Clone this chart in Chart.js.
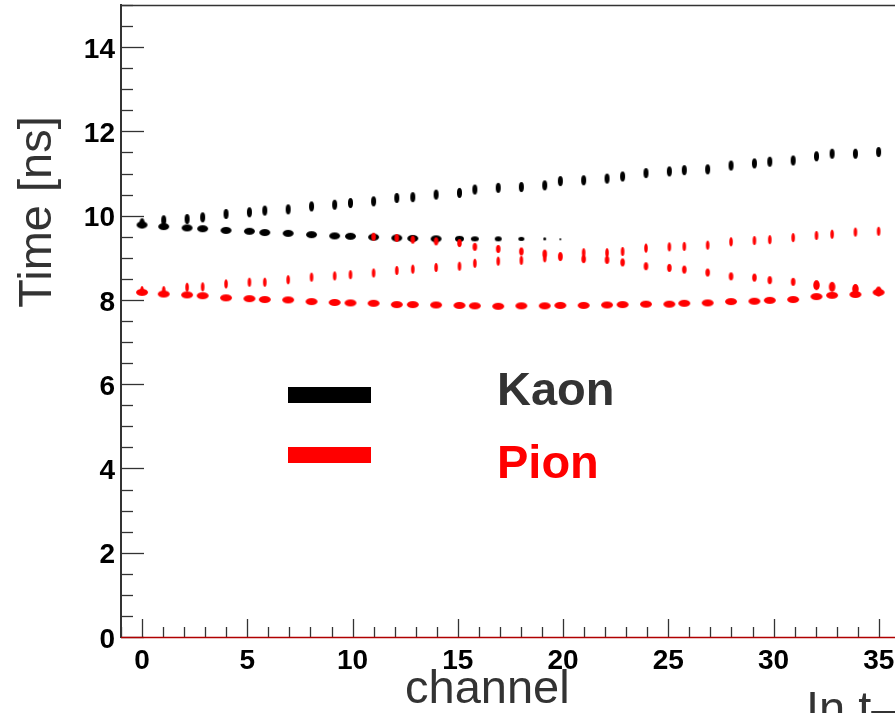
<!DOCTYPE html>
<html><head><meta charset="utf-8">
<script src="https://cdn.jsdelivr.net/npm/chart.js@4/dist/chart.umd.min.js"></script>
<style>
html,body{margin:0;padding:0;background:#fff;overflow:hidden;width:895px;height:713px}
#wrap{position:relative;width:970px;height:713px}
</style>
</head><body>
<div id="wrap"><canvas id="c" width="970" height="713"></canvas></div>
<script>
// ---- data ----
const channelPos = [0, 1.03, 2.14, 2.88, 3.99, 5.10, 5.83, 6.94, 8.05, 9.15, 9.90, 11.0, 12.1, 12.86, 13.97, 15.08, 15.81, 16.92,
  18.02, 19.13, 19.87, 20.98, 22.09, 22.83, 23.94, 25.05, 25.76, 26.87, 27.98, 29.09, 29.82, 30.93, 32.04, 32.78, 33.89, 34.99];
const kaonUpper = [9.82, 9.89, 9.92, 9.96, 10.04, 10.08, 10.12, 10.15, 10.22, 10.26, 10.30, 10.34, 10.42, 10.44, 10.50, 10.54, 10.62, 10.66,
  10.68, 10.72, 10.82, 10.84, 10.88, 10.93, 11.01, 11.05, 11.08, 11.10, 11.19, 11.24, 11.28, 11.31, 11.41, 11.47, 11.47, 11.51];
const kaonLower = [9.78, 9.74, 9.71, 9.69, 9.65, 9.63, 9.60, 9.58, 9.55, 9.52, 9.51, 9.49, 9.47, 9.46, 9.45, 9.45, 9.45, 9.45,
  9.45, 9.45, 9.44];
const pionUpper = [8.22, 8.22, 8.30, 8.31, 8.38, 8.42, 8.42, 8.48, 8.54, 8.57, 8.60, 8.64, 8.70, 8.73, 8.77, 8.80, 8.87, 8.92,
  8.94, 9.00, 9.03, 9.12, 9.12, 9.15, 9.23, 9.26, 9.27, 9.30, 9.38, 9.41, 9.43, 9.48, 9.53, 9.56, 9.61, 9.63];
const pionMiddle = [null, null, null, null, null, null, null, null, null, null, null, 9.50, 9.47, 9.43, 9.39, 9.35, 9.26, 9.21,
  9.15, 9.10, 9.03, 8.97, 8.95, 8.89, 8.80, 8.76, 8.72, 8.65, 8.56, 8.53, 8.47, 8.43, 8.35, 8.31, 8.26, 8.20];
const pionLower = [8.18, 8.14, 8.12, 8.10, 8.05, 8.03, 8.01, 8.00, 7.96, 7.94, 7.93, 7.92, 7.89, 7.89, 7.88, 7.87, 7.86, 7.85,
  7.86, 7.86, 7.87, 7.87, 7.88, 7.89, 7.90, 7.90, 7.92, 7.93, 7.96, 7.97, 7.99, 8.01, 8.08, 8.11, 8.13, 8.18];
const xTickLabels = [0, 5, 10, 15, 20, 25, 30, 35];
const yTickLabels = [0, 2, 4, 6, 8, 10, 12, 14];
const legendLabels = ['Kaon', 'Pion'];
const xTitle = 'channel';
const yTitle = 'Time [ns]';
const extraTitle = 'In t\u2014';

// ---- styles ----
function ell(w, h, color) {
  const c = document.createElement('canvas');
  c.width = Math.ceil(w) + 2; c.height = Math.ceil(h) + 2;
  const g = c.getContext('2d');
  g.fillStyle = color; g.beginPath();
  g.ellipse(c.width / 2, c.height / 2, w / 2, h / 2, 0, 0, Math.PI * 2); g.fill();
  return c;
}
const BLK = '#000000', RED = '#ff0000';
const kUpStyle = ell(5, 10, BLK);
const kLowBig = ell(11, 7, BLK);
const kLowFade = [ell(9, 6, BLK), ell(8, 5, BLK), ell(7, 5, BLK), ell(6, 4, BLK), ell(3, 3, BLK), ell(2, 2, BLK)];
const pUpStyle = ell(3.5, 9, RED);
const pMidStyle = [ell(4.5, 8, RED), ell(6.5, 10, RED)];
const pLowStyle = ell(12, 7, RED);

function pts(arr) {
  const out = [];
  arr.forEach((v, i) => { if (v !== null && v !== undefined) out.push({ x: channelPos[i], y: v }); });
  return out;
}

const decor = {
  id: 'decor',
  afterDraw(chart) {
    const { ctx, chartArea: a, scales: { x, y } } = chart;
    ctx.save();
    const line = (x1, y1, x2, y2) => { ctx.beginPath(); ctx.moveTo(x1, y1); ctx.lineTo(x2, y2); ctx.stroke(); };
    ctx.strokeStyle = '#333'; ctx.lineWidth = 1.3;
    for (let k = 0; k <= 30; k++) {
      const v = k * 0.5;
      const py = Math.round(y.getPixelForValue(v)) + 0.5;
      line(a.left, py, a.left + (k % 4 === 0 ? 23 : 12), py);
    }
    for (let v = -1; v <= 39; v++) {
      const px = Math.round(x.getPixelForValue(v)) + 0.5;
      line(px, a.bottom, px, a.bottom - (v % 5 === 0 ? 18 : 10));
    }
    // top frame
    ctx.lineWidth = 1.5; ctx.strokeStyle = '#333';
    line(a.left, a.top + 0.5, a.right, a.top + 0.5);
    // red baseline
    ctx.strokeStyle = '#b00000'; ctx.lineWidth = 1.5;
    line(a.left, a.bottom + 0.5, a.right, a.bottom + 0.5);
    // legend
    ctx.fillStyle = BLK; ctx.fillRect(288, 387, 83, 16);
    ctx.fillStyle = RED; ctx.fillRect(288, 447, 83, 16);
    ctx.font = 'bold 47px "Liberation Sans", Arial, sans-serif';
    ctx.textBaseline = 'alphabetic'; ctx.textAlign = 'left';
    ctx.fillStyle = '#333'; ctx.fillText(legendLabels[0], 497, 405);
    ctx.fillStyle = RED; ctx.fillText(legendLabels[1], 497, 478);
    // titles
    ctx.font = '47px "Liberation Sans", Arial, sans-serif';
    ctx.fillStyle = '#333';
    ctx.fillText(xTitle, 405, 703);
    ctx.fillText(extraTitle, 806, 724);
    ctx.save();
    ctx.translate(51, 212); ctx.rotate(-Math.PI / 2);
    ctx.textAlign = 'center';
    ctx.fillText(yTitle, 0, 0);
    ctx.restore();
    ctx.restore();
  }
};

const tickFont = { family: '"Liberation Sans", Arial, sans-serif', size: 28, weight: 'bold' };

new Chart(document.getElementById('c'), {
  type: 'scatter',
  data: {
    datasets: [
      { label: 'pionMiddle', data: pts(pionMiddle), order: 0,
        pointStyle: (c) => pMidStyle[c.dataIndex > 20 ? 1 : 0], backgroundColor: RED },
      { label: 'pionUpper', data: pts(pionUpper), order: 0, pointStyle: pUpStyle, backgroundColor: RED },
      { label: 'pionLower', data: pts(pionLower), order: 0, pointStyle: pLowStyle, backgroundColor: RED },
      { label: 'kaonUpper', data: pts(kaonUpper), order: 1, pointStyle: kUpStyle, backgroundColor: BLK },
      { label: 'kaonLower', data: pts(kaonLower), order: 1,
        pointStyle: (c) => c.dataIndex < 15 ? kLowBig : kLowFade[Math.min(c.dataIndex - 15, 5)], backgroundColor: BLK }
    ]
  },
  options: {
    responsive: false,
    animation: false,
    layout: { padding: { top: 5, right: 7, left: 0, bottom: 0 } },
    plugins: { legend: { display: false }, tooltip: { enabled: false } },
    scales: {
      x: {
        type: 'linear', min: -1, max: 39,
        afterFit: (s) => { s.height = 76; s.paddingLeft = 0; s.paddingRight = 0; },
        afterBuildTicks: (s) => { s.ticks = xTickLabels.map(v => ({ value: v })); },
        grid: { display: false, drawTicks: false },
        border: { display: true, color: '#000', width: 1 },
        ticks: { color: '#000', padding: 7, font: tickFont }
      },
      y: {
        type: 'linear', min: 0, max: 15,
        afterFit: (s) => { s.width = 121; s.paddingTop = 0; s.paddingBottom = 0; },
        afterBuildTicks: (s) => { s.ticks = yTickLabels.map(v => ({ value: v })); },
        grid: { display: false, drawTicks: false },
        border: { display: true, color: '#333', width: 2 },
        ticks: { color: '#000', padding: 6, labelOffset: 3, font: tickFont }
      }
    }
  },
  plugins: [decor]
});
</script>
</body></html>
